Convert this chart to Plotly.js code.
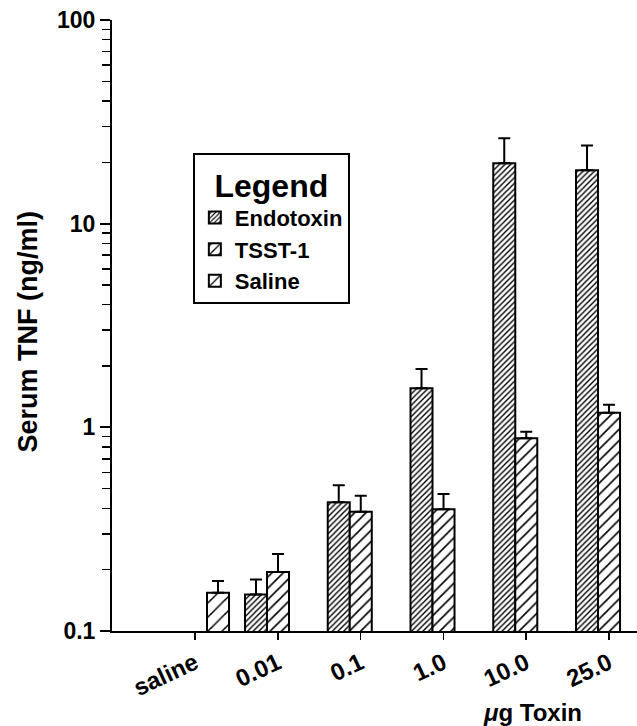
<!DOCTYPE html>
<html>
<head>
<meta charset="utf-8">
<script src="https://cdn.plot.ly/plotly-3.0.1.min.js"></script>
<style>html,body{margin:0;padding:0;background:#fff;}#chart{width:637px;height:726px;}</style>
</head>
<body>
<div id="chart"></div>
<script>
// Data
var categories = ['saline', '0.01', '0.1', '1.0', '10.0', '25.0'];
var catIndex = [0, 1, 2, 3, 4, 5];
var endotoxin = [null, 0.151, 0.429, 1.555, 19.8, 18.3];
var endotoxinErr = [0, 0.028, 0.09, 0.38, 6.5, 5.9];
var tsst = [null, 0.195, 0.385, 0.396, 0.883, 1.18];
var tsstErr = [0, 0.044, 0.076, 0.074, 0.069, 0.11];
var salineCat = [0];
var saline = [0.154];
var salineErr = [0.022];
var yTickVals = [0.1, 1, 10, 100];
var yTickText = ['0.1', '1', '10', '100'];

var FONT = 'Liberation Sans, Arial, Helvetica, sans-serif';
var barW = 0.266;

function minorVals() {
  var v = [];
  [0.1, 1, 10].forEach(function (d) { for (var k = 2; k <= 9; k++) v.push(k * d); });
  return v;
}

var errStyle = function (arr) {
  return {type: 'data', symmetric: false, array: arr, arrayminus: arr.map(function () { return 0; }),
          color: 'black', thickness: 2, width: 6};
};

var traces = [
  {
    type: 'bar', name: 'Endotoxin', x: catIndex, y: endotoxin,
    offset: -barW, width: barW,
    marker: {color: 'white', line: {color: 'black', width: 2},
             pattern: {shape: '/', size: 4, solidity: 0.35, fgcolor: 'black', bgcolor: 'white'}},
    error_y: errStyle(endotoxinErr)
  },
  {
    type: 'bar', name: 'TSST-1', x: catIndex, y: tsst,
    offset: 0, width: barW,
    marker: {color: 'white', line: {color: 'black', width: 2},
             pattern: {shape: '/', size: 8, solidity: 0.2, fgcolor: 'black', bgcolor: 'white'}},
    error_y: errStyle(tsstErr)
  },
  {
    type: 'bar', name: 'Saline', x: salineCat, y: saline,
    offset: 0.275, width: barW,
    marker: {color: 'white', line: {color: 'black', width: 2},
             pattern: {shape: '/', size: 10, solidity: 0.15, fgcolor: 'black', bgcolor: 'white'}},
    error_y: errStyle(salineErr)
  }
];

var layout = {
  width: 637, height: 726,
  margin: {l: 112, r: 0, t: 20, b: 95},
  paper_bgcolor: 'white', plot_bgcolor: 'white',
  barmode: 'overlay',
  font: {family: FONT, color: 'black', size: 20, weight: 700},
  showlegend: true,
  legend: {
    x: 0.154, xanchor: 'left', y: 0.782, yanchor: 'top',
    bgcolor: 'white', bordercolor: 'black', borderwidth: 2,
    font: {family: FONT, size: 22, weight: 700, color: 'black'},
    title: {text: 'Legend', side: 'top center', font: {family: FONT, size: 32, weight: 700}},
    traceorder: 'normal'
  },
  xaxis: {
    range: [-0.873, 5.471],
    tickmode: 'array',
    tickvals: catIndex.map(function (i) { return i + 0.13; }),
    ticktext: categories,
    tickangle: -25,
    ticks: 'outside', ticklen: 7, tickwidth: 1.5, tickcolor: 'black',
    showline: true, linecolor: 'black', linewidth: 2,
    showgrid: false, zeroline: false,
    tickfont: {family: FONT, size: 24, weight: 700}
  },
  yaxis: {
    type: 'log', range: [-1, 2],
    tickmode: 'array', tickvals: yTickVals, ticktext: yTickText,
    ticks: 'outside', ticklen: 10, tickwidth: 2, tickcolor: 'black',
    minor: {tickmode: 'array', tickvals: minorVals(), ticks: 'outside', ticklen: 8, tickwidth: 1.5, tickcolor: 'black', showgrid: false},
    showline: true, linecolor: 'black', linewidth: 2,
    showgrid: false, zeroline: false,
    tickfont: {family: FONT, size: 23, weight: 700}
  },
  annotations: [
    {text: 'Serum TNF (ng/ml)', xref: 'paper', yref: 'paper', x: -0.16, y: 0.49,
     xanchor: 'center', yanchor: 'middle', textangle: -90, showarrow: false,
     font: {family: FONT, size: 27, weight: 700}},
    {text: '<i>μ</i>g Toxin', xref: 'paper', yref: 'paper', x: 0.8, y: -0.1326,
     xanchor: 'center', yanchor: 'middle', showarrow: false,
     font: {family: FONT, size: 24, weight: 700}}
  ]
};

Plotly.newPlot('chart', traces, layout, {displayModeBar: false, staticPlot: true});
</script>
</body>
</html>
